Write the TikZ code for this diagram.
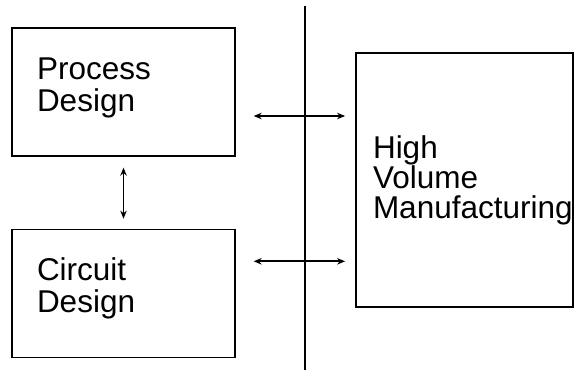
\documentclass[tikz,border=0pt]{standalone}
\usepackage{fontspec}
\setmainfont{Liberation Sans}
\usetikzlibrary{positioning,arrows.meta}
\tikzset{
  blockbox/.style={draw,line width=1.3pt,minimum width=223pt,minimum height=128pt,
    text width=173pt,inner xsep=25pt,inner ysep=0pt,align=left,
    text height=23pt,text depth=48.5pt,
    font=\fontsize{31.5}{32}\selectfont},
  link/.style={line width=1.8pt,{Stealth[length=8pt,width=6.5pt]}-{Stealth[length=8pt,width=6.5pt]}}
}
\begin{document}
\begin{tikzpicture}[x=1pt,y=-1pt]
\useasboundingbox (0,0) rectangle (585,370);
% left column
\node[blockbox] (pd) at (123.5,92) {Process\\Design};
\node[blockbox,below=72pt of pd] (cd) {Circuit\\Design};
% right side
\node[blockbox,line width=1.8pt,minimum width=217pt,minimum height=254pt,
  text width=183pt,inner xsep=17pt,text height=23pt,text depth=66.6pt,
  font=\fontsize{31.5}{30}\selectfont] (hvm) at (464.5,180) {High\\Volume\\Manufacturing};
% divider
\draw[line width=1.8pt] (305,6) -- (305,370);
% links
\draw[link,shorten <=11pt,shorten >=10pt] (pd.south) -- (cd.north);
\draw[link,shorten >=10pt] ([shift={(18,24)}]pd.east) coordinate (a1) -- (hvm.west |- a1);
\draw[link,shorten >=10pt] ([shift={(18,-32)}]cd.east) coordinate (a2) -- (hvm.west |- a2);
\end{tikzpicture}
\end{document}
